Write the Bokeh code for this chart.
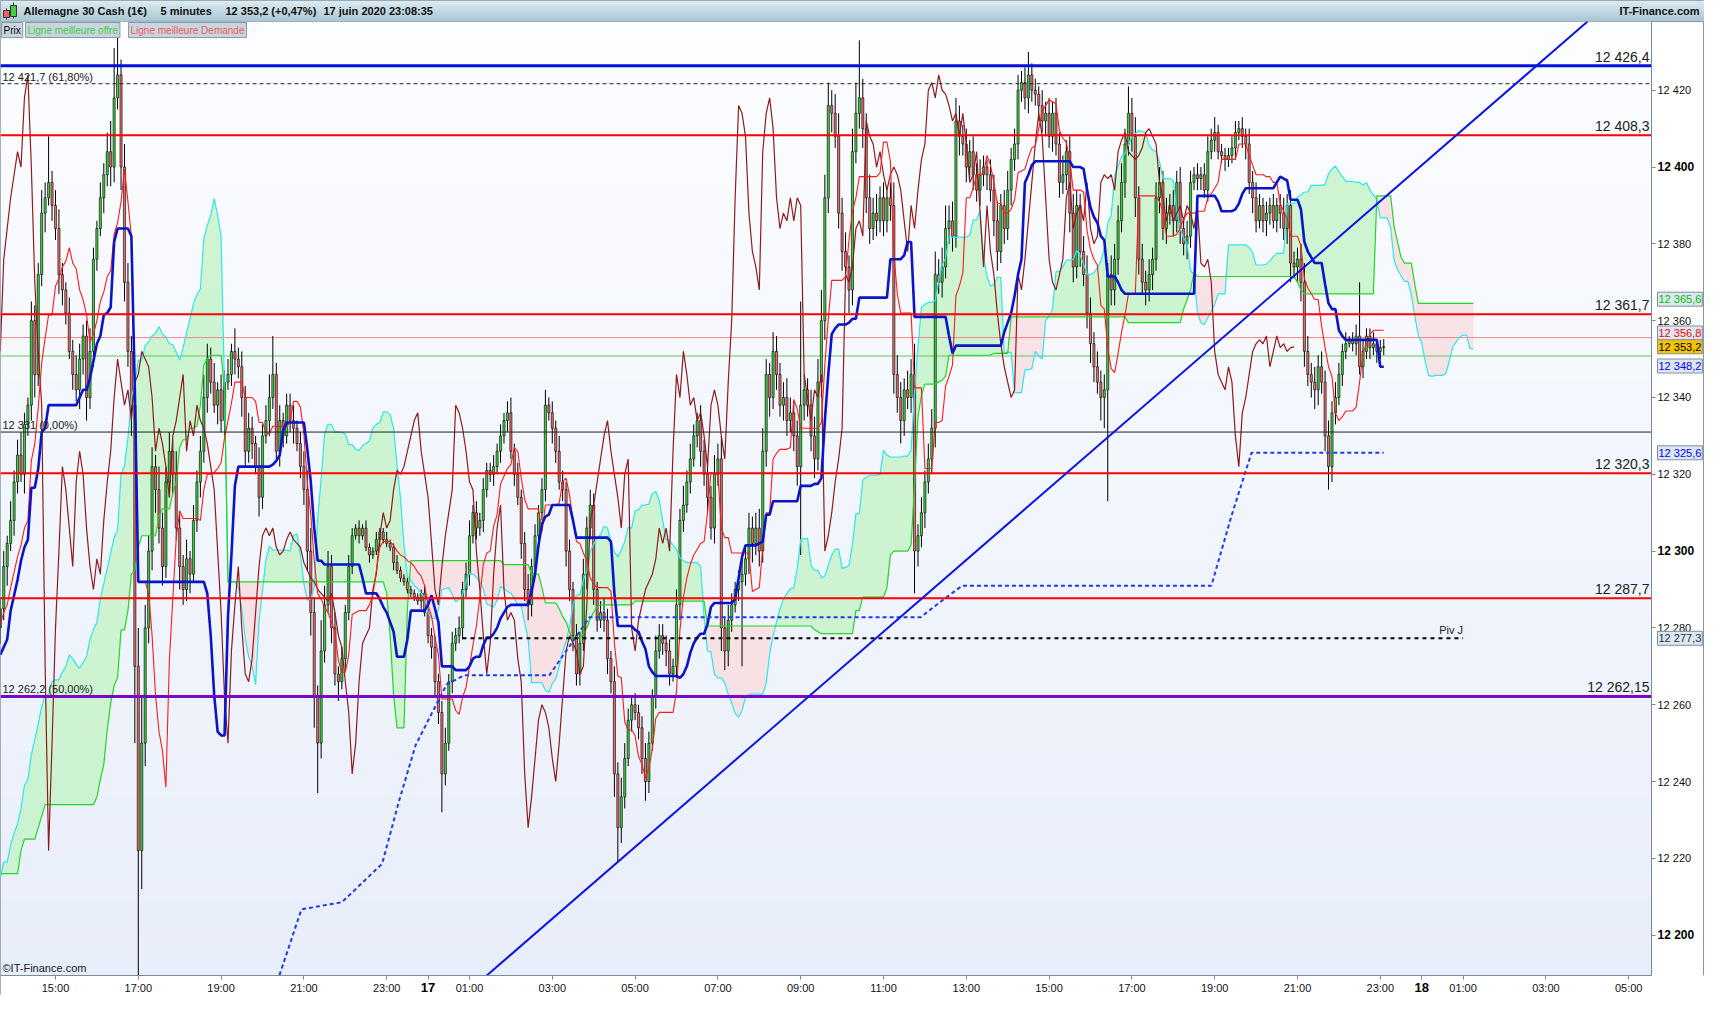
import numpy as np
from bokeh.plotting import figure
from bokeh.models import Range1d, FixedTicker, BoxAnnotation, Label, ColumnDataSource, LinearAxis
from bokeh.layouts import column
from bokeh.embed import file_html
from bokeh.resources import INLINE
from bokeh.core.properties import value

FONT = "Liberation Sans"

# ---------------- data ----------------
# pre-window 5-minute closes (07:10-13:35 on the 16th, off chart, only feed the indicators)
warm_close = [
    12196, 12182, 12170, 12160, 12156, 12150, 12162, 12176, 12188, 12184, 12194, 12206,
    12218, 12232, 12246, 12258, 12270, 12282, 12276, 12264, 12256, 12248, 12240, 12236,
    12228, 12220, 12210, 12196, 12184, 12176, 12168, 12178, 12190, 12200, 12212, 12218,
    12222, 12214, 12206, 12198, 12194, 12200, 12208, 12214, 12206, 12200, 12210, 12216,
    12220, 12214, 12222, 12228, 12246, 12254, 12250, 12258, 12262, 12256, 12264, 12270,
    12266, 12274, 12280, 12288, 12294, 12300, 12296, 12290, 12284, 12288, 12294, 12290,
    12282, 12274, 12268, 12272, 12278, 12280,
]
# visible 5-minute closes, first candle 13:40 on the 16th, last 23:05 on the 17th
close_vals = [
    12285, 12296, 12302, 12308, 12318, 12325, 12320, 12333, 12338, 12360, 12346, 12372,
    12388, 12392, 12396, 12390, 12384, 12372, 12368, 12362, 12352, 12346, 12342, 12350,
    12356, 12340, 12352, 12376, 12384, 12392, 12398, 12404, 12400, 12418, 12424, 12400,
    12370, 12352, 12338, 12270, 12222, 12250, 12280, 12300, 12322, 12316, 12306, 12296,
    12318, 12326, 12320, 12306, 12296, 12290, 12298, 12294, 12308, 12318, 12326, 12340,
    12350, 12344, 12338, 12342, 12334, 12344, 12346, 12352, 12350, 12348, 12340, 12326,
    12332, 12328, 12322, 12314, 12330, 12334, 12340, 12346, 12326, 12334, 12330, 12338,
    12334, 12332, 12328, 12322, 12316, 12300, 12284, 12262, 12250, 12274, 12286, 12296,
    12280, 12268, 12266, 12272, 12284, 12296, 12304, 12306, 12304, 12306, 12301, 12299,
    12300, 12303, 12305, 12303, 12302, 12301, 12297, 12295, 12293, 12292, 12290, 12289,
    12288, 12287, 12289, 12284, 12278, 12275, 12266, 12258, 12242, 12250, 12266, 12276,
    12278, 12280, 12290, 12294, 12304, 12310, 12306, 12308, 12316, 12321, 12320, 12322,
    12326, 12330, 12334, 12336, 12326, 12320, 12314, 12302, 12290, 12286, 12296, 12304,
    12310, 12316, 12338, 12336, 12332, 12326, 12318, 12316, 12300, 12290, 12278, 12268,
    12276, 12294, 12306, 12312, 12290, 12282, 12284, 12282, 12272, 12266, 12242, 12228,
    12236, 12246, 12256, 12260, 12258, 12254, 12246, 12240, 12250, 12262, 12274, 12278,
    12276, 12274, 12268, 12270, 12286, 12308, 12312, 12318, 12324, 12330, 12334, 12326,
    12320, 12314, 12306, 12320, 12324, 12280, 12274, 12282, 12286, 12290, 12292, 12294,
    12298, 12306, 12302, 12306, 12300, 12326, 12346, 12340, 12352, 12346, 12338, 12340,
    12334, 12336, 12330, 12322, 12338, 12342, 12338, 12330, 12324, 12344, 12360, 12392,
    12416, 12414, 12408, 12388, 12378, 12374, 12368, 12404, 12414, 12418, 12410, 12392,
    12384, 12388, 12386, 12392, 12386, 12392, 12390, 12346, 12340, 12334, 12342, 12340,
    12346, 12300, 12304, 12310, 12318, 12324, 12332, 12372, 12370, 12374, 12384, 12386,
    12382, 12412, 12408, 12406, 12400, 12404, 12398, 12394, 12398, 12400, 12398, 12394,
    12386, 12378, 12390, 12384, 12394, 12402, 12406, 12420, 12422, 12418, 12424, 12420,
    12419, 12416, 12412, 12414, 12408, 12414, 12406, 12396, 12398, 12404, 12388, 12374,
    12390, 12378, 12372, 12362, 12354, 12348, 12344, 12340, 12342, 12372, 12368, 12376,
    12386, 12396, 12406, 12414, 12408, 12392, 12376, 12370, 12368, 12372, 12376, 12392,
    12396, 12384, 12388, 12390, 12386, 12396, 12384, 12380, 12382, 12396, 12398, 12397,
    12398, 12394, 12404, 12407, 12409, 12404, 12403, 12402, 12403, 12405, 12409, 12410,
    12408, 12406, 12396, 12392, 12386, 12390, 12386, 12388, 12390, 12386, 12390, 12388,
    12384, 12390, 12375, 12374, 12376, 12370, 12352, 12346, 12344, 12342, 12348, 12344,
    12330, 12322, 12336, 12340, 12346, 12352, 12354, 12355, 12354, 12356, 12348, 12352,
    12356, 12353, 12354, 12352, 12353, 12353.2,
]
# upper / lower wick lengths beyond the body (points)
wick_up = [
    3, 4, 2, 5, 3, 4, 6, 3, 2, 5, 4, 3,
    6, 4, 12, 3, 4, 5, 3, 2, 4, 3, 5, 4,
    3, 4, 6, 3, 2, 4, 3, 5, 8, 13, 10, 4,
    6, 5, 4, 8, 10, 12, 6, 4, 5, 3, 6, 4,
    4, 5, 3, 6, 4, 3, 5, 2, 4, 3, 4, 6,
    4, 3, 5, 2, 4, 3, 4, 2, 6, 3, 4, 3,
    4, 3, 2, 5, 3, 4, 6, 10, 3, 4, 2, 3,
    3, 4, 2, 3, 4, 5, 6, 4, 3, 8, 5, 4,
    3, 4, 2, 3, 2, 3, 2, 1, 2, 1, 2, 1,
    1, 2, 1, 1, 2, 1, 1, 2, 1, 1, 1, 1,
    1, 1, 1, 2, 1, 2, 3, 2, 3, 4, 2, 3,
    2, 3, 2, 3, 4, 2, 3, 2, 3, 2, 2, 3,
    2, 3, 2, 3, 4, 2, 3, 2, 3, 4, 2, 3,
    2, 3, 4, 2, 3, 2, 4, 3, 2, 3, 2, 3,
    3, 4, 3, 4, 3, 2, 3, 4, 3, 2, 4, 3,
    5, 4, 3, 2, 3, 2, 3, 4, 3, 2, 4, 3,
    3, 2, 3, 2, 4, 3, 5, 3, 4, 3, 2, 4,
    3, 4, 3, 5, 4, 6, 3, 4, 3, 2, 3, 4,
    3, 4, 3, 4, 5, 6, 4, 3, 5, 4, 3, 4,
    5, 4, 3, 4, 27, 4, 3, 4, 5, 6, 8, 6,
    6, 4, 5, 6, 4, 5, 3, 6, 8, 15, 5, 4,
    6, 4, 5, 3, 4, 3, 4, 6, 5, 4, 3, 5,
    4, 8, 3, 4, 3, 4, 5, 6, 4, 5, 6, 4,
    5, 6, 4, 3, 4, 3, 4, 3, 4, 3, 2, 4,
    4, 5, 3, 4, 5, 3, 4, 4, 3, 4, 6, 3,
    3, 2, 4, 3, 4, 3, 4, 3, 5, 3, 4, 5,
    4, 3, 4, 5, 4, 3, 4, 3, 4, 3, 5, 4,
    4, 5, 4, 7, 4, 5, 3, 4, 3, 4, 3, 4,
    4, 3, 4, 3, 4, 3, 4, 3, 4, 3, 2, 3,
    2, 3, 4, 3, 4, 2, 2, 2, 2, 3, 3, 2,
    3, 2, 4, 3, 4, 3, 2, 3, 2, 3, 2, 3,
    4, 3, 4, 3, 3, 4, 5, 4, 3, 4, 3, 4,
    3, 4, 3, 4, 3, 2, 3, 1, 2, 3, 14, 3,
    2, 2, 3, 1, 2, 2,
]
wick_dn = [
    4, 3, 5, 2, 4, 3, 2, 5, 3, 4, 6, 3,
    3, 5, 2, 4, 3, 5, 4, 3, 2, 4, 3, 5,
    4, 6, 3, 4, 3, 2, 4, 3, 5, 4, 3, 6,
    5, 4, 8, 20, 72, 10, 6, 4, 5, 6, 4, 5,
    3, 4, 5, 3, 6, 4, 3, 5, 2, 3, 4, 3,
    4, 3, 2, 5, 3, 4, 2, 3, 4, 3, 5, 4,
    3, 4, 2, 5, 3, 2, 4, 3, 2, 4, 3, 2,
    3, 4, 2, 3, 4, 5, 6, 8, 13, 4, 3, 2,
    4, 3, 5, 2, 3, 2, 2, 1, 2, 1, 1, 2,
    1, 1, 2, 1, 1, 1, 2, 1, 1, 1, 1, 1,
    1, 1, 2, 1, 2, 3, 4, 3, 10, 3, 2, 3,
    2, 2, 3, 2, 3, 2, 3, 2, 3, 2, 2, 3,
    2, 3, 2, 3, 2, 3, 2, 4, 3, 4, 3, 2,
    3, 2, 3, 2, 4, 3, 2, 3, 4, 3, 4, 3,
    3, 2, 4, 3, 4, 3, 2, 3, 4, 3, 6, 9,
    4, 3, 2, 3, 2, 3, 4, 5, 3, 2, 3, 2,
    3, 4, 3, 2, 3, 4, 3, 2, 3, 2, 3, 4,
    3, 4, 3, 4, 3, 6, 5, 4, 3, 2, 3, 22,
    3, 4, 5, 3, 4, 3, 4, 5, 3, 4, 3, 4,
    4, 3, 4, 5, 23, 4, 3, 4, 5, 3, 4, 5,
    4, 5, 3, 4, 5, 4, 6, 4, 3, 4, 5, 4,
    4, 3, 4, 3, 4, 3, 4, 5, 4, 6, 4, 3,
    4, 11, 4, 3, 4, 3, 4, 5, 3, 4, 3, 4,
    4, 3, 5, 3, 4, 3, 4, 3, 4, 3, 4, 3,
    4, 5, 3, 4, 3, 4, 3, 4, 3, 3, 4, 3,
    3, 4, 3, 4, 3, 4, 3, 4, 3, 4, 5, 4,
    3, 4, 3, 4, 5, 4, 3, 6, 8, 29, 4, 4,
    4, 3, 4, 3, 4, 5, 4, 3, 4, 3, 4, 3,
    4, 3, 4, 3, 4, 3, 4, 3, 4, 3, 2, 3,
    3, 2, 3, 2, 3, 2, 2, 3, 2, 2, 3, 2,
    3, 4, 3, 4, 3, 2, 3, 4, 3, 2, 3, 4,
    3, 4, 5, 3, 4, 5, 4, 3, 4, 5, 4, 3,
    4, 6, 4, 3, 2, 3, 2, 1, 2, 3, 2, 3,
    2, 3, 2, 3, 2, 2,
]

first_candle_hour = 13 + 40 / 60.0      # 16 juin 13:40, hours since 16 juin 00:00
candle_step = 5 / 60.0
ichimoku_shift = 26

# horizontal levels
level_blue = 12426.4
levels_red = [12408.3, 12361.7, 12320.3, 12287.7]
level_purple = 12262.15
right_level_values = [12426.4, 12408.3, 12361.7, 12320.3, 12287.7, 12262.15]
right_level_texts = ["12 426,4", "12 408,3", "12 361,7", "12 320,3", "12 287,7", "12 262,15"]
fib_values = [12421.7, 12331.0, 12262.2]
fib_texts = ["12 421,7 (61,80%)", "12 331 (0,00%)", "12 262,2 (50,00%)"]
band_low, band_high = 12350.8, 12355.6
pivot_value = 12277.3
pivot_hours = [24.83, 49.0]

# trend line anchors (hour, price)
trend_hours = [28.5, 45.07]
trend_prices = [12218.3, 12373.1]

# blue dashed stop line (hour, price)
stop_hours = [20.41, 20.94, 21.92, 22.89, 23.30, 23.70, 24.10, 24.45, 24.88, 26.93, 27.40, 27.90,
              35.90, 36.40, 36.90, 42.92, 43.40, 43.89, 47.08]
stop_prices = [12189.6, 12206.7, 12208.6, 12218.6, 12235.0, 12249.5, 12258.0, 12265.3, 12267.7,
               12267.7, 12275.0, 12282.8, 12282.8, 12287.0, 12291.0, 12291.0, 12309.0, 12325.6, 12325.6]

# right-axis value tags
tag_values = [12365.6, 12356.8, 12353.2, 12348.2, 12325.6, 12277.3]
tag_texts = ["12 365,6", "12 356,8", "12 353,2", "12 348,2", "12 325,6", "12 277,3"]
tag_colors = ["#00c000", "#ff0000", "#000000", "#0000ff", "#0000ff", "#203040"]
tag_fills = ["#dde7f0", "#dde7f0", "#f5c400", "#dde7f0", "#dde7f0", "#dde7f0"]

# axis ticks
y_ticks = list(range(12200, 12421, 20))
x_ticks = [15, 17, 19, 21, 23, 24, 25, 27, 29, 31, 33, 35, 37, 39, 41, 43, 45, 47, 48, 49, 51, 53]
day_ticks = {24: "17", 48: "18"}

title_parts = ["Allemagne 30 Cash (1€)", "5 minutes", "12 353,2 (+0,47%)", "17 juin 2020 23:08:35"]
title_x = [23, 160, 225, 323]
legend_items = [("Prix", "#000000", 0), ("Ligne meilleure offre", "#44cc44", 24),
                ("Ligne meilleure Demande", "#f05a5a", 127)]

# ---------------- computations ----------------
W = len(warm_close)
N = len(close_vals)
closes_all = np.array(warm_close + close_vals, dtype=float)
opens_all = np.concatenate([[warm_close[0]], closes_all[:-1]])
wu_all = np.concatenate([np.zeros(W), np.array(wick_up, float)])
wd_all = np.concatenate([np.zeros(W), np.array(wick_dn, float)])
hi_all = np.maximum(opens_all, closes_all) + wu_all
lo_all = np.minimum(opens_all, closes_all) - wd_all
t_all = first_candle_hour + np.arange(-W, N) * candle_step


def midpoint(n):
    out = np.empty(len(hi_all))
    for k in range(len(hi_all)):
        a = max(0, k - n + 1)
        out[k] = (hi_all[a:k + 1].max() + lo_all[a:k + 1].min()) / 2
    return out


tenkan = midpoint(9)
kijun = midpoint(26)
span_b = midpoint(52)
span_a = (tenkan + kijun) / 2

vis = slice(W, W + N)
t_vis = t_all[vis]
o_vis = opens_all[vis]
c_vis = closes_all[vis]
h_vis = hi_all[vis]
l_vis = lo_all[vis]

src = slice(W - ichimoku_shift, W + N)
cloud_x = t_all[src] + ichimoku_shift * candle_step
cloud_a = span_a[src]
cloud_b = span_b[src]
cloud_top = np.maximum(cloud_a, cloud_b)

chikou_x = t_vis[:N - ichimoku_shift]
chikou_y = c_vis[ichimoku_shift:]

# ---------------- layout constants ----------------
FIG_W = 1704
HEAD_H = 21
MAIN_H = 974
RIGHT_AX = 53          # px of right axis strip
BOTTOM_AX = 20         # px of bottom axis strip
PX_PER_HOUR = 41.4
x0 = first_candle_hour + 0.005
axis_x = x0 + (FIG_W - RIGHT_AX) / PX_PER_HOUR
x_end = x0 + FIG_W / PX_PER_HOUR
chart_lo, y1 = 12189.5, 12437.9
px_per_pt = (MAIN_H - BOTTOM_AX) / (y1 - chart_lo)
y_start = chart_lo - BOTTOM_AX / px_per_pt


def vgrad(bottom, top, n=64):
    b = np.array(bottom, float)
    t = np.array(top, float)
    f = np.linspace(0, 1, n)[:, None]
    rgb = (b + (t - b) * f).round().astype(np.uint8)
    img = np.empty((n, 2), dtype=np.uint32)
    v = img.view(dtype=np.uint8).reshape((n, 2, 4))
    for ch in range(3):
        v[:, :, ch] = rgb[:, ch][:, None]
    v[:, :, 3] = 255
    return img


# ---------------- header ----------------
head = figure(width=FIG_W, height=HEAD_H, x_range=Range1d(0, FIG_W), y_range=Range1d(0, HEAD_H),
              output_backend="svg", toolbar_location=None, x_axis_location=None, y_axis_location=None,
              min_border=0, outline_line_color="#7f95a3")
head.xgrid.visible = False
head.ygrid.visible = False
head.image_rgba(image=[vgrad((168, 198, 211), (222, 235, 240))], x=0, y=0, dw=FIG_W, dh=HEAD_H)
# little candle icon
head.segment(x0=[6, 13], y0=[2, 3], x1=[6, 13], y1=[13, 19], color="#333333", line_width=1)
head.quad(left=[3, 10], right=[9, 16], bottom=[4, 5], top=[11, 16],
          fill_color=["#f06060", "#40d040"], line_color="#333333", line_width=1)
head.text(x=title_x, y=[10.5] * 4, text=title_parts, text_font=value(FONT), text_font_size="11px",
          text_font_style="bold", text_baseline="middle", text_color="#101010")
head.text(x=[FIG_W - 5], y=[10.5], text=["IT-Finance.com"], text_font=value(FONT), text_font_size="11px",
          text_font_style="bold", text_baseline="middle", text_align="right", text_color="#101010")

# ---------------- main chart ----------------
p = figure(width=FIG_W, height=MAIN_H, x_range=Range1d(x0, x_end), y_range=Range1d(y_start, y1),
           output_backend="svg", toolbar_location=None, x_axis_location=None, y_axis_location=None,
           min_border=0, background_fill_color="white", border_fill_color="white",
           outline_line_color="#8796a5")
p.xgrid.visible = False
p.ygrid.visible = False

# chart background gradient
p.image_rgba(image=[vgrad((232, 238, 250), (252, 253, 255))], x=x0, y=chart_lo,
             dw=axis_x - x0, dh=y1 - chart_lo)

# cloud
p.varea(x=cloud_x, y1=cloud_b, y2=cloud_top, fill_color="#c9f3cc", fill_alpha=0.9)
p.varea(x=cloud_x, y1=cloud_a, y2=cloud_top, fill_color="#f7dfe2", fill_alpha=0.9)

# green band
p.add_layout(BoxAnnotation(left=x0, right=axis_x, bottom=band_low, top=band_high, fill_color="#b7e6b9",
                           fill_alpha=0.8, line_color=None, level="underlay"))
p.line([x0, axis_x], [band_high, band_high], line_color="#f08888", line_width=1)
p.line([x0, axis_x], [band_low, band_low], line_color="#60c860", line_width=1)

# candles
cs = ColumnDataSource(dict(
    t=t_vis, top=np.maximum(o_vis, c_vis), bottom=np.minimum(o_vis, c_vis), hi=h_vis, lo=l_vis,
    color=np.where(c_vis >= o_vis, "#3ccf3c", "#e86a6a"),
))
p.segment(x0="t", y0="lo", x1="t", y1="hi", source=cs, line_color="#000000", line_width=1)
p.vbar(x="t", width=0.62 * candle_step, top="top", bottom="bottom", source=cs,
       fill_color="color", line_color="#000000", line_width=0.6)

# keep marks inside the chart area (the low spike goes below the bottom)
p.add_layout(BoxAnnotation(left=x0, right=x_end, bottom=y_start, top=chart_lo, fill_color="white",
                           fill_alpha=1.0, line_color=None, level="glyph"))

# indicator lines
p.line(cloud_x, cloud_a, line_color="#2ee6ee", line_width=1.2)
p.line(cloud_x, cloud_b, line_color="#22d622", line_width=1.2)
p.line(chikou_x, chikou_y, line_color="#8e1c1c", line_width=1.2)
p.line(t_vis, tenkan[vis], line_color="#ff1a1a", line_width=1.1)
p.line(t_vis, kijun[vis], line_color="#0a14c8", line_width=2.6)

# stop line
p.line(stop_hours, stop_prices, line_color="#1a3cf0", line_width=2, line_dash="4 3")

# horizontal levels
p.line([x0, axis_x], [fib_values[0]] * 2, line_color="#222222", line_width=1, line_dash="4 3")
p.line([x0, axis_x], [fib_values[1]] * 2, line_color="#222222", line_width=1)
for lv in levels_red:
    p.line([x0, axis_x], [lv, lv], line_color="#ff0000", line_width=2)
p.line([x0, axis_x], [level_blue] * 2, line_color="#0010e0", line_width=3)
p.line([x0, axis_x], [level_purple] * 2, line_color="#7a06c6", line_width=3)
p.line(pivot_hours, [pivot_value, pivot_value], line_color="#000000", line_width=2, line_dash="4 4")

# trend line, drawn across the chart area
grad = (trend_prices[1] - trend_prices[0]) / (trend_hours[1] - trend_hours[0])
tr_x = [trend_hours[0] + (chart_lo - trend_prices[0]) / grad, trend_hours[0] + (y1 - trend_prices[0]) / grad]
p.line(tr_x, [chart_lo, y1], line_color="#0a14e6", line_width=2)

# axes (inside the frame at the chart edges)
yaxis = LinearAxis(fixed_location=axis_x, bounds=(chart_lo, y1), ticker=FixedTicker(ticks=y_ticks))
yaxis.major_label_overrides = {
    v: ("" if v % 100 == 0 else f"{v // 1000} {v % 1000:03d}") for v in y_ticks}
xaxis = LinearAxis(fixed_location=chart_lo, bounds=(x0, axis_x), ticker=FixedTicker(ticks=x_ticks))
xaxis.major_label_overrides = {
    h: ("" if h in day_ticks else f"{h % 24:02d}:00") for h in x_ticks}
for ax in (yaxis, xaxis):
    ax.minor_tick_line_color = None
    ax.major_tick_in = 0
    ax.major_tick_out = 4
    ax.major_label_standoff = 2
    ax.major_label_text_font = FONT
    ax.major_label_text_font_size = "11px"
    ax.major_label_text_color = "#101010"
    ax.axis_line_color = "#7a8a99"
    ax.major_tick_line_color = "#7a8a99"
p.add_layout(yaxis, "right")
p.add_layout(xaxis, "below")

# labels on the chart
for v, txt in zip(right_level_values, right_level_texts):
    p.add_layout(Label(x=axis_x, y=v, x_offset=-2, y_offset=1, text=txt, text_align="right",
                       text_baseline="bottom", text_font=FONT, text_font_size="14px", text_color="#202020"))
for v, txt in zip(fib_values, fib_texts):
    p.add_layout(Label(x=x0, y=v, x_offset=2, y_offset=1, text=txt, text_align="left",
                       text_baseline="bottom", text_font=FONT, text_font_size="11px", text_color="#202020"))
p.add_layout(Label(x=pivot_hours[1], y=pivot_value, y_offset=2, text="Piv J", text_align="right",
                   text_baseline="bottom", text_font=FONT, text_font_size="11px", text_color="#202020"))
p.add_layout(Label(x=x0, y=chart_lo, x_offset=2, y_offset=2, text="©IT-Finance.com", text_align="left",
                   text_baseline="bottom", text_font=FONT, text_font_size="11px", text_color="#202020"))

# legend strip
for txt, col, xo in legend_items:
    p.add_layout(Label(x=x0, y=y1, x_offset=xo + 1, y_offset=-1, text=txt, text_align="left",
                       text_baseline="top", text_font=FONT, text_font_size="10px", text_color=col,
                       background_fill_color="#c9d5de", border_line_color="#8a9aa8", padding=2))

# bold round-number tick labels
for v in y_ticks:
    if v % 100 == 0:
        p.add_layout(Label(x=axis_x, y=v, x_offset=6, text=f"{v // 1000} {v % 1000:03d}", text_align="left",
                           text_baseline="middle", text_font=FONT, text_font_size="12px",
                           text_font_style="bold", text_color="#000000"))
for h, txt in day_ticks.items():
    p.add_layout(Label(x=h, y=chart_lo, y_offset=-12, text=txt, text_align="center", text_baseline="middle",
                       text_font=FONT, text_font_size="13px", text_font_style="bold", text_color="#000000"))

# right-axis value tags
for v, txt, col, fc in zip(tag_values, tag_texts, tag_colors, tag_fills):
    p.add_layout(Label(x=axis_x, y=v, x_offset=6, text=txt, text_align="left", text_baseline="middle",
                       text_font=FONT, text_font_size="11px", text_color=col,
                       background_fill_color=fc, border_line_color="#7f8fa0", padding=1))

layout = column(head, p, spacing=0)
open("out.html", "w").write(file_html(layout, INLINE))
